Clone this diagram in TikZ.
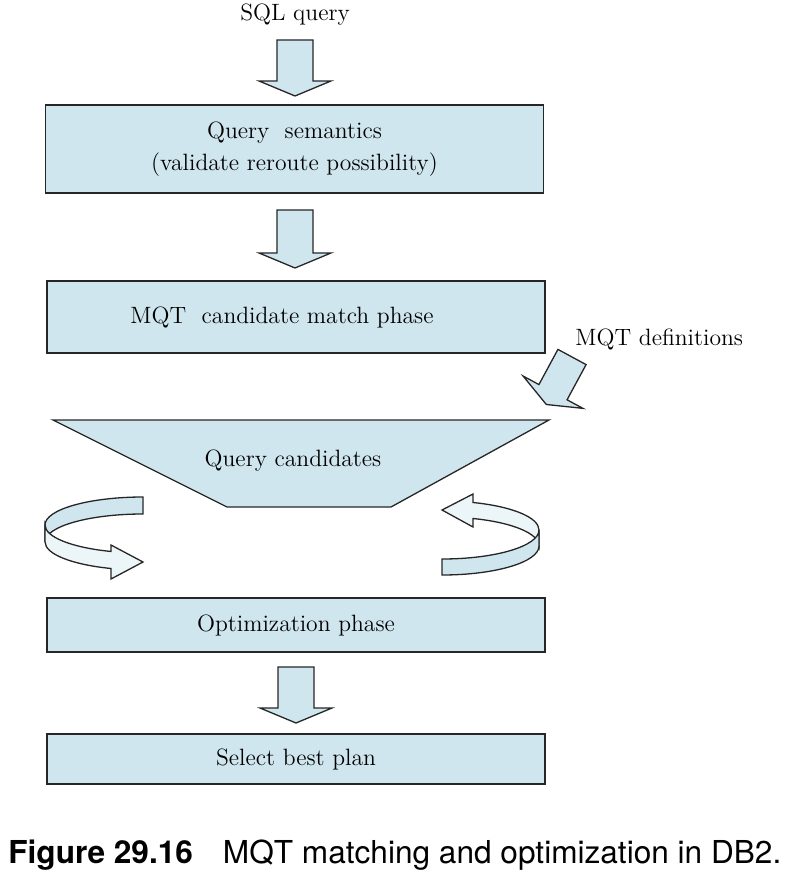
\documentclass[tikz,border=0pt]{standalone}
\usepackage{fontspec}
\newfontfamily\capfont{TeX Gyre Heros}
\usetikzlibrary{positioning}
\definecolor{qblue}{RGB}{208,230,239}
\definecolor{qpale}{RGB}{236,246,249}
\tikzset{
  phase/.style={draw=black!85, fill=qblue, line width=0.65pt, minimum width=249pt, inner sep=0pt},
  blk/.style={draw=black!85, fill=qblue, line width=0.65pt},
  pale/.style={draw=black!85, fill=qpale, line width=0.65pt},
  txt/.style={inner sep=0pt}
}
\begin{document}
\begin{tikzpicture}[x=0.5pt, y=-0.5pt, font=\fontsize{11.8}{16}\selectfont]
  \useasboundingbox (0,0) rectangle (792,886);

  \node[txt] (sql) at (295,15) {SQL query};
  \node[phase, minimum height=44pt, align=center] (sem) at (294.5,149) {Query\ \ semantics\\(validate reroute possibility)};
  \node[phase, minimum height=36pt] (match) at (296,317) {MQT\ \ candidate match phase\hspace*{14pt}};
  \node[phase, minimum height=27pt] (opt) at (296,625) {Optimization phase};
  \node[phase, minimum height=25pt] (best) at (296,759) {Select best plan};

  \filldraw[blk] (53,420) -- (549,420) -- (391,507) -- (227,507) -- cycle;
  \node[txt] (cand) at (293,461) {Query candidates};

  \foreach \x/\ys/\yt in {295/40/96, 295/210/268, 296/667/723}
  {
    \filldraw[blk] (\x-18,\ys) -- (\x+18,\ys) -- (\x+18,\yt-15) -- (\x+36,\yt-15)
      -- (\x,\yt) -- (\x-36,\yt-15) -- (\x-18,\yt-15) -- cycle;
  }

  \node[txt, anchor=west] (defs) at (575,339) {MQT definitions};
  \begin{scope}[shift={(572,357)}, rotate=-28.4]
    \filldraw[blk] (-16,0) -- (16,0) -- (16,40) -- (34,40) -- (0,54) -- (-34,40) -- (-16,40) -- cycle;
  \end{scope}

  \filldraw[blk] (143,497) arc[start angle=270, end angle=180, x radius=98, y radius=28]
    -- ++(0,17) arc[start angle=180, end angle=270, x radius=98, y radius=28] -- cycle;
  \filldraw[pale] (45,525) arc[start angle=180, end angle=109.1, x radius=98, y radius=28]
    -- (111,545) -- (143,562) -- (111,579) -- (111,568.5)
    arc[start angle=109.1, end angle=180, x radius=98, y radius=28] -- cycle;

  \filldraw[pale] (473,502.5) arc[start angle=288.64, end angle=360, x radius=97, y radius=29]
    -- ++(0,16) arc[start angle=360, end angle=288.64, x radius=97, y radius=29]
    -- (473,527) -- (442,510) -- (473,494) -- cycle;
  \filldraw[blk] (442,559) arc[start angle=90, end angle=0, x radius=97, y radius=29]
    -- ++(0,16) arc[start angle=0, end angle=90, x radius=97, y radius=29] -- cycle;

  \node[txt, anchor=base west] (cap) at (8,863) {\capfont\fontsize{15.8}{19}\selectfont\textbf{Figure 29.16}\hspace{15pt}MQT matching and optimization in DB2.};
\end{tikzpicture}
\end{document}
